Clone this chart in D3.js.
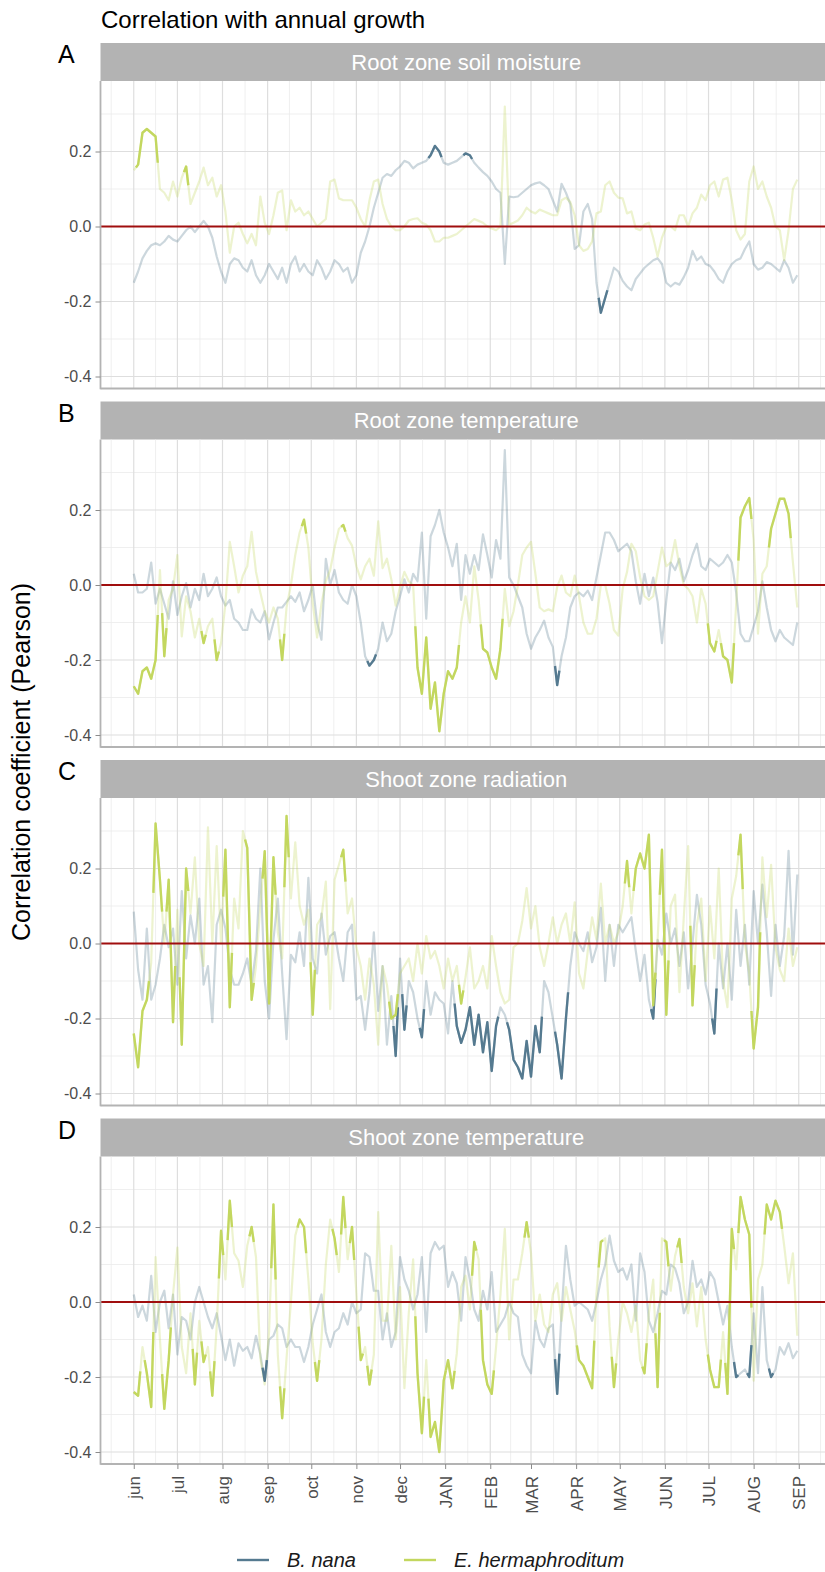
<!DOCTYPE html>
<html>
<head>
<meta charset="utf-8">
<script src="https://cdn.jsdelivr.net/npm/d3@7"></script>
<style>
	body { margin: 0; background: #fff; }
	svg text { font-family: "Liberation Sans", Arial, Helvetica, sans-serif; }
</style>
</head>
<body>
<svg id="chart" width="825" height="1572"></svg>
<script>

var months = ["jun","jul","aug","sep","oct","nov","dec","JAN","FEB","MAR","APR","MAY","JUN","JUL","AUG","SEP"];
var panelTitles = ["Root zone soil moisture","Root zone temperature","Shoot zone radiation","Shoot zone temperature"];
var panelTags = ["A","B","C","D"];
var yTicks = [-0.4, -0.2, 0, 0.2];
var species = ["B. nana", "E. hermaphroditum"];
var speciesColors = ["#557a90", "#c3d75f"];

// one value every stepDays days, from firstDay
var firstDay = new Date(2018, 5, 1),
	lastDay = new Date(2019, 8, 1),
	stepDays = 3;

// A: root zone soil moisture
var aNana = [
	-0.15,-0.12,-0.085,-0.065,-0.05,-0.045,-0.05,-0.04,-0.025,-0.035,
	-0.04,-0.025,-0.01,0,-0.015,0,0.015,0,-0.03,-0.08,
	-0.12,-0.15,-0.1,-0.085,-0.09,-0.11,-0.12,-0.09,-0.13,-0.15,
	-0.13,-0.1,-0.12,-0.14,-0.11,-0.15,-0.1,-0.08,-0.12,-0.1,
	-0.12,-0.13,-0.09,-0.11,-0.14,-0.12,-0.09,-0.1,-0.12,-0.11,
	-0.15,-0.13,-0.07,-0.04,0,0.05,0.09,0.13,0.14,0.135,
	0.15,0.16,0.175,0.17,0.155,0.165,0.17,0.175,0.19,0.215,
	0.2,0.17,0.165,0.17,0.175,0.185,0.195,0.19,0.17,0.157,
	0.145,0.135,0.12,0.1,0.09,-0.1,0.08,0.078,0.08,0.09,
	0.1,0.11,0.115,0.118,0.11,0.1,0.07,0.04,0.114,0.09,
	0.06,-0.06,-0.05,0.04,0.06,0.02,-0.15,-0.23,-0.19,-0.15,
	-0.11,-0.12,-0.145,-0.16,-0.17,-0.14,-0.125,-0.11,-0.1,-0.09,
	-0.085,-0.1,-0.15,-0.16,-0.15,-0.155,-0.135,-0.11,-0.065,-0.09,
	-0.08,-0.1,-0.105,-0.12,-0.14,-0.15,-0.12,-0.1,-0.09,-0.085,
	-0.06,-0.04,-0.1,-0.115,-0.11,-0.095,-0.1,-0.11,-0.12,-0.09,
	-0.11,-0.15,-0.13];
var aHerm = [
	0.15,0.165,0.25,0.26,0.25,0.24,0.1,0.09,0.07,0.12,
	0.08,0.13,0.16,0.06,0.09,0.12,0.157,0.11,0.13,0.08,
	0.11,0.04,-0.07,0,0.01,-0.02,-0.045,-0.02,-0.05,0.08,
	0.01,-0.02,0.03,0.09,0.096,-0.01,0.07,0.04,0.05,0.03,
	0.04,0.02,0,0.01,0.02,0.12,0.125,0.075,0.07,0.07,
	0.07,0.05,0.02,0,0.07,0.12,0.125,0.06,0.02,0,
	-0.01,-0.01,0,0.016,0.02,0.022,0.01,0.005,-0.01,-0.04,
	-0.04,-0.03,-0.03,-0.025,-0.02,-0.01,0,0.01,0.02,0.015,
	0.01,0,-0.005,-0.01,0,0.32,0.005,0.01,0.016,0.03,
	0.05,0.04,0.035,0.045,0.04,0.035,0.03,0.03,0.07,0.077,
	0.065,0.03,-0.05,-0.065,-0.06,-0.04,0.035,0.04,0.11,0.12,
	0.09,0.077,0.075,0.035,0.04,-0.005,-0.01,0.005,0.01,-0.03,
	-0.08,-0.03,0,0,-0.01,0.03,0.03,0,0.035,0.05,
	0.085,0.07,0.11,0.12,0.08,0.125,0.13,0.07,-0.01,-0.035,
	-0.02,0.12,0.16,0.1,0.12,0.08,0.05,0,-0.01,-0.09,
	-0.01,0.1,0.125];
var aNanaSig = [[68,70],[76,77],[107,108]];
var aHermSig = [[1,5],[12,12]];

// B: root zone temperature
var bNana = [
	0.03,-0.02,-0.02,-0.01,0.06,-0.05,-0.01,-0.05,-0.09,0.01,
	-0.08,-0.03,0.005,-0.06,-0.01,-0.04,0.03,-0.03,-0.01,0.02,
	-0.03,-0.055,-0.04,-0.09,-0.1,-0.12,-0.12,-0.065,-0.09,-0.1,
	-0.07,-0.145,-0.1,-0.06,-0.06,-0.045,-0.03,-0.045,-0.02,-0.07,
	-0.04,0,-0.1,-0.146,0.07,0,0.04,-0.02,-0.04,-0.05,
	0,-0.03,-0.1,-0.19,-0.215,-0.2,-0.17,-0.1,-0.15,-0.13,
	-0.07,-0.03,0.015,-0.02,0.03,0.01,0.14,-0.09,0.13,0.16,
	0.2,0.14,0.1,0.05,0.11,-0.04,0.08,0.03,0.08,0.04,
	0.135,0.08,0.02,0.12,0.07,0.36,0.02,0,-0.03,-0.06,
	-0.13,-0.17,-0.14,-0.12,-0.095,-0.14,-0.165,-0.267,-0.19,-0.14,
	-0.06,-0.03,-0.02,-0.03,-0.015,-0.04,0.02,0.08,0.14,0.14,
	0.12,0.09,0.1,0.11,0.09,0.01,-0.05,0.03,-0.03,0.02,
	-0.045,-0.155,-0.04,0.06,0.04,0.07,0.01,0.04,0.08,0.11,
	0.05,0.04,0.07,0.06,0.05,0.06,0.08,0.06,-0.02,-0.13,
	-0.15,-0.15,-0.11,-0.07,0.01,-0.06,-0.12,-0.15,-0.12,-0.14,
	-0.15,-0.16,-0.1];
var bHerm = [
	-0.27,-0.29,-0.23,-0.22,-0.25,-0.2,0.04,-0.19,-0.04,-0.01,
	0.08,-0.137,-0.03,-0.07,-0.14,-0.09,-0.155,-0.11,-0.09,-0.2,
	-0.155,-0.05,0.115,0.05,-0.02,0.025,0.05,0.142,0.035,-0.02,
	-0.07,-0.1,-0.06,-0.09,-0.2,-0.06,0,0.08,0.14,0.174,
	0.1,-0.05,-0.14,-0.05,0.01,0.04,0.1,0.15,0.16,0.125,
	0.105,0.05,0.015,0.05,0.07,0.025,0.17,0.045,0.07,0.015,
	-0.055,-0.005,0.035,0.01,0,-0.22,-0.29,-0.14,-0.33,-0.26,
	-0.39,-0.29,-0.23,-0.25,-0.22,-0.1,-0.03,-0.1,0.05,-0.04,
	-0.17,-0.18,-0.22,-0.25,-0.17,-0.01,-0.11,-0.07,0,0.08,
	0.1,0.115,0.03,-0.06,-0.07,-0.065,-0.07,-0.005,0.025,-0.02,
	-0.03,0.025,-0.03,-0.1,-0.13,-0.13,-0.09,0,0,-0.05,
	-0.12,-0.135,-0.01,0.035,0.11,0.09,0.02,-0.03,-0.04,-0.03,
	0.035,0.1,0.05,0.06,0.12,0.05,0,-0.01,-0.03,-0.1,
	-0.01,-0.05,-0.155,-0.177,-0.12,-0.19,-0.2,-0.26,-0.05,0.18,
	0.21,0.232,0.12,-0.13,0.03,0.05,0.15,0.19,0.23,0.23,
	0.19,0.06,-0.06];
var bNanaSig = [[54,55],[97,97]];
var bHermSig = [[0,5],[7,7],[16,16],[19,19],[34,34],[39,39],[48,48],[65,74],[80,84],[132,133],[135,137],[139,141],[146,150]];

// C: shoot zone radiation
var cNana = [
	0.085,-0.07,-0.15,0.04,-0.15,-0.11,-0.04,0.05,-0.01,0.04,
	-0.11,0.14,-0.04,0.075,0,0.12,-0.11,-0.06,-0.21,0.05,
	0.09,0.04,-0.07,-0.11,-0.11,-0.08,-0.04,-0.11,-0.02,0.2,
	-0.1,-0.2,0.01,0.12,-0.08,-0.255,-0.03,-0.05,0.03,-0.06,
	0.175,-0.04,-0.08,0.08,-0.03,0.02,0.03,-0.04,-0.1,0.03,
	0.05,-0.15,-0.14,-0.23,-0.13,0.03,-0.18,-0.06,-0.27,-0.14,
	-0.3,-0.04,-0.23,-0.1,-0.13,-0.2,-0.25,-0.1,-0.19,-0.13,
	-0.15,-0.16,-0.24,-0.1,-0.22,-0.265,-0.23,-0.17,-0.27,-0.19,
	-0.29,-0.21,-0.34,-0.22,-0.17,-0.19,-0.23,-0.31,-0.33,-0.36,
	-0.26,-0.355,-0.22,-0.29,-0.1,-0.13,-0.2,-0.27,-0.36,-0.2,
	-0.06,0.03,0,-0.02,0.03,-0.05,-0.01,0.095,-0.1,0.05,
	-0.06,0.05,0.03,0.05,0.07,-0.02,-0.1,-0.03,-0.15,-0.2,
	0.01,-0.03,0.08,0,0.04,-0.06,0.03,-0.12,0,0.13,
	0.05,-0.11,-0.16,-0.24,0,-0.12,0,-0.15,0.09,-0.06,
	0.05,-0.11,0.14,0,0.157,0.03,-0.14,0.05,-0.06,0.02,
	0.247,-0.03,0.184];
var cHerm = [
	-0.24,-0.33,-0.18,-0.15,-0.05,0.32,0.17,0,0.17,-0.21,
	0.09,-0.27,0.2,0.08,0.23,0,-0.06,0.31,0,0.26,
	0,0.25,-0.17,0.12,0.04,0.3,0.255,-0.15,-0.06,0.1,
	0.246,-0.16,0.23,0.03,-0.04,0.34,0.12,0.27,0.1,0.05,
	0.09,-0.19,0.05,0.07,0.165,-0.175,0.17,0.21,0.25,0.08,
	0.12,-0.01,-0.06,-0.15,-0.04,-0.11,-0.27,-0.06,-0.11,-0.2,
	-0.19,-0.08,-0.06,-0.04,-0.1,0,-0.08,0.02,-0.04,-0.02,
	-0.06,-0.12,-0.04,-0.1,-0.06,-0.16,-0.09,-0.01,-0.12,-0.1,
	-0.06,-0.12,0.02,-0.06,-0.13,-0.16,-0.15,-0.01,0,0.06,
	0.148,0.04,0.1,-0.01,-0.06,0,0.07,0,0.05,0.08,
	0,0.11,-0.08,-0.12,-0.02,0.07,0.01,0.16,0,0.05,
	0,0.03,0.1,0.22,0.08,0.2,0.24,0.2,0.29,-0.165,
	0.01,0.25,-0.19,0.1,0.13,-0.13,0.07,0.26,-0.165,0.05,
	0.12,-0.1,0.1,-0.04,0.2,-0.1,-0.17,0.12,0.18,0.29,
	0,-0.08,-0.28,-0.17,0.23,0.07,0.21,-0.01,-0.07,-0.1,
	0.04,-0.06,-0.01];
var cNanaSig = [[60,60],[62,62],[66,66],[74,83],[86,93],[97,99],[119,119],[133,133]];
var cHermSig = [[0,3],[5,6],[8,9],[11,12],[21,22],[26,27],[30,32],[35,35],[41,41],[48,48],[59,60],[75,75],[113,113],[115,119],[121,122],[128,128],[139,139],[142,143]];

// D: shoot zone temperature
var dNana = [
	0.02,-0.04,-0.01,-0.05,0.07,-0.08,0,0.03,-0.07,0.02,
	-0.14,-0.04,-0.05,-0.1,0,0.04,0,-0.04,-0.07,-0.03,
	-0.09,-0.155,-0.1,-0.17,-0.11,-0.13,-0.12,-0.15,-0.09,-0.14,
	-0.21,-0.1,-0.09,-0.06,-0.07,-0.12,-0.1,-0.12,-0.12,-0.16,
	-0.12,-0.06,-0.02,0.02,-0.08,-0.12,-0.08,-0.07,-0.03,-0.06,
	0,-0.03,-0.02,0.13,0.12,0.03,0.03,-0.1,-0.03,-0.12,
	-0.08,0.12,0.06,0.03,-0.02,0.02,0.12,-0.08,0.13,0.16,
	0.14,0.15,0.04,0.08,0.05,-0.05,0.12,0.06,-0.02,-0.05,
	0.03,-0.02,0.08,-0.08,-0.06,-0.04,0,-0.03,-0.04,-0.14,
	-0.17,-0.19,-0.05,-0.1,-0.12,-0.07,-0.06,-0.245,-0.03,0.15,
	0.06,-0.01,0,-0.01,-0.02,-0.05,0,0.06,0.1,0.177,
	0.11,0.08,0.09,0.06,0.1,-0.05,0.13,0.08,-0.05,-0.08,
	-0.03,0.03,0.02,0.1,0.09,0.05,-0.03,0,0.11,0.04,
	0.06,0.02,0.08,0.06,0,-0.06,-0.01,-0.12,-0.2,-0.19,
	-0.18,-0.2,-0.03,-0.19,0.04,-0.155,-0.2,-0.18,-0.12,-0.14,
	-0.11,-0.15,-0.13];
var dHerm = [
	-0.24,-0.25,-0.12,-0.19,-0.28,0.12,-0.1,-0.285,-0.155,0.02,
	0.145,-0.12,-0.19,-0.03,-0.22,-0.05,-0.16,-0.12,-0.25,-0.065,
	0.19,0.06,0.27,0.13,0.11,0.04,0.15,0.2,0.12,-0.15,
	-0.22,-0.08,0.26,-0.14,-0.31,-0.15,0,0.177,0.22,0.2,
	0.06,-0.11,-0.21,-0.1,0.1,0.22,0.17,0.08,0.28,0.114,
	0.2,0.024,-0.155,-0.12,-0.22,-0.14,0.24,-0.05,-0.05,0.15,
	-0.1,0.04,-0.23,-0.03,0.114,-0.19,-0.35,-0.155,-0.36,-0.32,
	-0.4,-0.21,-0.155,-0.23,-0.137,0.04,0.07,-0.02,0.16,0.114,
	-0.155,-0.22,-0.245,-0.12,0.02,0.195,-0.1,0.06,0.06,0.13,
	0.213,0.13,-0.05,0.02,-0.06,-0.08,0.02,0.05,-0.05,0.04,
	-0.02,-0.076,-0.155,-0.17,-0.2,-0.23,0.024,0.16,0.17,-0.065,
	-0.227,-0.1,0,-0.03,-0.08,-0.01,-0.155,-0.19,-0.03,0.06,
	-0.227,0.17,0.16,0.03,0.123,0.168,0.04,-0.03,0.05,-0.065,
	0.04,-0.1,-0.18,-0.227,-0.227,-0.08,-0.245,0.195,0.087,0.28,
	0.22,0.18,-0.21,0.06,0.1,0.26,0.22,0.27,0.24,0.15,
	0.05,0.13,-0.09];
var dNanaSig = [[30,30],[97,97],[138,138],[141,141],[146,146]];
var dHermSig = [[0,1],[3,4],[7,8],[14,14],[16,16],[18,18],[20,20],[22,22],[27,27],[32,32],[34,34],[38,39],[42,42],[46,46],[48,48],[50,50],[52,52],[54,54],[65,66],[68,71],[72,73],[78,78],[80,82],[90,90],[102,105],[107,107],[110,110],[117,117],[120,120],[122,122],[125,125],[132,134],[136,137],[139,141],[145,148]];

var panels = [
	{ series: [aNana, aHerm], sig: [aNanaSig, aHermSig] },
	{ series: [bNana, bHerm], sig: [bNanaSig, bHermSig] },
	{ series: [cNana, cHerm], sig: [cNanaSig, cHermSig] },
	{ series: [dNana, dHerm], sig: [dNanaSig, dHermSig] }
];

function start(){

	var svg = d3.select("#chart"),
		left = 100.5,
		right = 832,
		top0 = 81,
		panelStep = 358.5,
		plotH = 307.5,
		stripH = 38,
		yDomain = [-0.432, 0.388];

	var span = lastDay - firstDay;
	var x = d3.scaleTime()
		.domain([new Date(+firstDay - span * 0.05), new Date(+lastDay + span * 0.05)])
		.range([left, right]);

	var majorX = d3.timeMonth.range(firstDay, d3.timeMonth.offset(lastDay, 1));
	var minorX = d3.timeMonth.range(d3.timeMonth.offset(firstDay, -1), d3.timeMonth.offset(lastDay, 1))
		.map(function(m){ return new Date((+m + +d3.timeMonth.offset(m, 1)) / 2); });
	var minorY = [yTicks[0] - 0.1].concat(yTicks.map(function(t){ return t + 0.1; }))
		.filter(function(t){ return t > yDomain[0] && t < yDomain[1]; });

	function toPoints(vals){
		return vals.map(function(v, i){
			return { date: d3.timeDay.offset(firstDay, i * stepDays), v: v };
		});
	}

	function midPoint(a, b){
		return { date: new Date((+a.date + +b.date) / 2), v: (a.v + b.v) / 2 };
	}

	// significant stretches, each widened half a step on both sides
	function sigRuns(pts, ranges){
		return ranges.map(function(r){
			var run = [];
			if (r[0] > 0) run.push(midPoint(pts[r[0] - 1], pts[r[0]]));
			for (var i = r[0]; i <= r[1]; i++) run.push(pts[i]);
			if (r[1] < pts.length - 1) run.push(midPoint(pts[r[1]], pts[r[1] + 1]));
			return run;
		});
	}

	// title and y label
	svg.append("text")
		.attr("x", 101).attr("y", 28)
		.style("font-size", "24px").style("fill", "#000")
		.text("Correlation with annual growth");

	svg.append("text")
		.attr("transform", "translate(30,762) rotate(-90)")
		.attr("text-anchor", "middle")
		.style("font-size", "25px").style("fill", "#000")
		.text("Correlation coefficient (Pearson)");

	panels.forEach(function(p, k){
		var top = top0 + k * panelStep,
			bottom = top + plotH;
		var y = d3.scaleLinear().domain(yDomain).range([bottom, top]);
		var g = svg.append("g");

		g.append("clipPath").attr("id", "clip" + k)
			.append("rect")
			.attr("x", left).attr("y", top)
			.attr("width", right - left).attr("height", plotH);

		// strip
		g.append("rect")
			.attr("x", left).attr("y", top - stripH)
			.attr("width", right - left).attr("height", stripH)
			.attr("fill", "#b3b3b3");
		g.append("text")
			.attr("x", (left + right) / 2).attr("y", top - stripH / 2)
			.attr("dy", "0.36em")
			.attr("text-anchor", "middle")
			.style("font-size", "22px").style("fill", "#fff")
			.text(panelTitles[k]);

		g.append("text")
			.attr("x", 58).attr("y", top - 18)
			.style("font-size", "25px").style("fill", "#000")
			.text(panelTags[k]);

		// grid
		g.selectAll(".minx").data(minorX).enter().append("line")
			.attr("x1", function(d){ return x(d); }).attr("x2", function(d){ return x(d); })
			.attr("y1", top).attr("y2", bottom)
			.attr("stroke", "#ebebeb").attr("stroke-width", 0.8);
		g.selectAll(".miny").data(minorY).enter().append("line")
			.attr("x1", left).attr("x2", right)
			.attr("y1", function(d){ return y(d); }).attr("y2", function(d){ return y(d); })
			.attr("stroke", "#ebebeb").attr("stroke-width", 0.8);
		g.selectAll(".majx").data(majorX).enter().append("line")
			.attr("x1", function(d){ return x(d); }).attr("x2", function(d){ return x(d); })
			.attr("y1", top).attr("y2", bottom)
			.attr("stroke", "#dedede").attr("stroke-width", 1.2);
		g.selectAll(".majy").data(yTicks).enter().append("line")
			.attr("x1", left).attr("x2", right)
			.attr("y1", function(d){ return y(d); }).attr("y2", function(d){ return y(d); })
			.attr("stroke", "#dedede").attr("stroke-width", 1.2);

		var line = d3.line()
			.x(function(d){ return x(d.date); })
			.y(function(d){ return y(d.v); });

		var lines = g.append("g").attr("clip-path", "url(#clip" + k + ")");
		var pts = p.series.map(toPoints);

		// faded full series, then the significant stretches on top
		pts.forEach(function(s, j){
			lines.append("path")
				.attr("d", line(s))
				.attr("fill", "none")
				.attr("stroke", speciesColors[j])
				.attr("stroke-opacity", 0.3)
				.attr("stroke-width", 2.2)
				.attr("stroke-linejoin", "round");
		});
		pts.forEach(function(s, j){
			sigRuns(s, p.sig[j]).forEach(function(run){
				lines.append("path")
					.attr("d", line(run))
					.attr("fill", "none")
					.attr("stroke", speciesColors[j])
					.attr("stroke-width", 2.4)
					.attr("stroke-linejoin", "round");
			});
		});

		g.append("line")
			.attr("x1", left).attr("x2", right)
			.attr("y1", y(0)).attr("y2", y(0))
			.attr("stroke", "#a00e0e").attr("stroke-width", 2.2);

		// axis lines
		g.append("line")
			.attr("x1", left).attr("x2", left).attr("y1", top).attr("y2", bottom + 0.8)
			.attr("stroke", "#b3b3b3").attr("stroke-width", 1.8);
		g.append("line")
			.attr("x1", left).attr("x2", right).attr("y1", bottom).attr("y2", bottom)
			.attr("stroke", "#b3b3b3").attr("stroke-width", 1.8);

		var yAxis = g.append("g")
			.attr("transform", "translate(" + left + ",0)")
			.call(d3.axisLeft(y).tickValues(yTicks).tickSize(5).tickPadding(4)
				.tickFormat(function(d){ return d.toFixed(1); }));
		yAxis.select(".domain").remove();
		yAxis.selectAll("line").attr("stroke", "#8c8c8c");
		yAxis.selectAll("text")
			.style("font-size", "16px").style("fill", "#4d4d4d")
			.style("font-family", "'Liberation Sans', Arial, sans-serif");

		if (k === panels.length - 1){
			var xAxis = g.append("g")
				.attr("transform", "translate(0," + bottom + ")")
				.call(d3.axisBottom(x).tickValues(majorX).tickSize(5)
					.tickFormat(function(d, i){ return months[i]; }));
			xAxis.select(".domain").remove();
			xAxis.selectAll("line").attr("stroke", "#8c8c8c");
			xAxis.selectAll("text")
				.attr("transform", "rotate(-90)")
				.attr("x", -12).attr("y", 0).attr("dy", "0.36em")
				.style("text-anchor", "end")
				.style("font-size", "17px").style("fill", "#4d4d4d")
				.style("font-family", "'Liberation Sans', Arial, sans-serif");
		}
	});

	// legend
	var legend = svg.append("g").attr("transform", "translate(0,1560)");
	var legendX = [237, 404];
	species.forEach(function(name, j){
		legend.append("line")
			.attr("x1", legendX[j]).attr("x2", legendX[j] + 32)
			.attr("y1", 0).attr("y2", 0)
			.attr("stroke", speciesColors[j]).attr("stroke-width", 2.4);
		legend.append("text")
			.attr("x", legendX[j] + 50).attr("y", 0).attr("dy", "0.36em")
			.style("font-size", "20px").style("font-style", "italic").style("fill", "#1a1a1a")
			.text(name);
	});
}

start();
</script>
</body>
</html>
